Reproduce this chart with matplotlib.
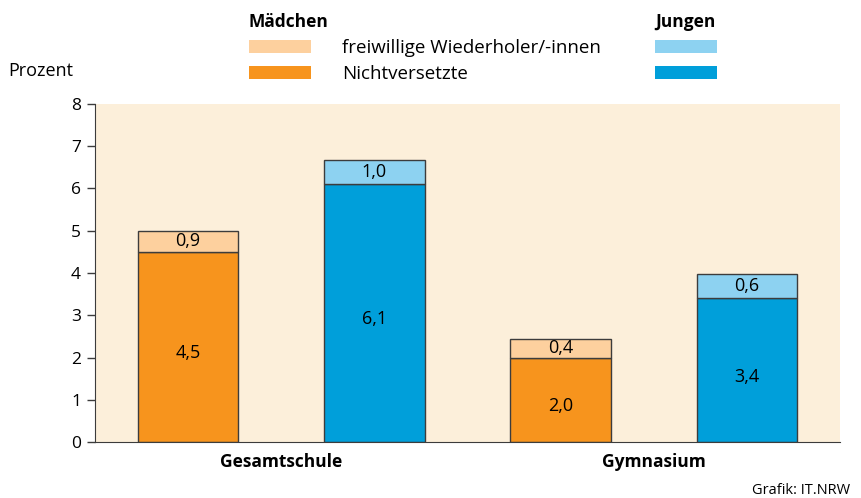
import matplotlib.pyplot as plt
from matplotlib.patches import Rectangle

# ---------------------------------------------------------
# Daten
# ---------------------------------------------------------

schulformen = ["Gesamtschule", "Gymnasium"]

# Nichtversetzte (Prozent)
maedchen_nv = [4.5, 2.0]
jungen_nv = [6.1, 3.4]

# freiwillige Wiederholer/-innen (Prozent, Beschriftung)
maedchen_fw = [0.9, 0.4]
jungen_fw = [1.0, 0.6]

# Höhe der oberen Segmente, wie sie in der Vorlage gezeichnet sind
maedchen_fw_hoehe = [0.5, 0.43]
jungen_fw_hoehe = [0.57, 0.58]

yticks = [0, 1, 2, 3, 4, 5, 6, 7, 8]

# ---------------------------------------------------------
# Farben
# ---------------------------------------------------------

hintergrund = "#FCEFDA"
orange = "#F7941D"
orange_hell = "#FDD09E"
blau = "#009FDA"
blau_hell = "#8DD2F1"
rand = "#3C3C3C"

plt.rcParams["font.family"] = ["Open Sans", "DejaVu Sans"]

fig = plt.figure(figsize=(8.61, 4.98), dpi=100)
ax = fig.add_axes([0.1103, 0.1124, 0.8653, 0.6788])
ax.set_facecolor(hintergrund)

breite = 0.54
x_m = [0, 2]
x_j = [1, 3]


def fmt(v):
    return f"{v:.1f}".replace(".", ",")


for xs, nv, fw, fw_h, c1, c2 in [
    (x_m, maedchen_nv, maedchen_fw, maedchen_fw_hoehe, orange, orange_hell),
    (x_j, jungen_nv, jungen_fw, jungen_fw_hoehe, blau, blau_hell),
]:
    ax.bar(xs, nv, width=breite, color=c1, edgecolor=rand, linewidth=1, zorder=2)
    ax.bar(xs, fw_h, bottom=nv, width=breite, color=c2,
           edgecolor=rand, linewidth=1, zorder=2)
    for x, a, b, h in zip(xs, nv, fw, fw_h):
        ax.text(x, a / 2 - 0.15, fmt(a), ha="center", va="center", fontsize=13)
        ax.text(x, a + h / 2, fmt(b), ha="center", va="center", fontsize=13)

ax.set_xlim(-0.5, 3.5)
ax.set_ylim(0, 8)
ax.set_yticks(yticks)
ax.set_yticklabels([str(t) for t in yticks], fontsize=12.5)
ax.tick_params(axis="y", length=6, width=1, color=rand, pad=4)
ax.set_xticks([])

for s in ["top", "right"]:
    ax.spines[s].set_visible(False)
ax.spines["left"].set_color(rand)
ax.spines["bottom"].set_color(rand)
ax.spines["bottom"].set_bounds(-0.5, 3.5)

# Kategorien unter den Gruppen
for i, name in enumerate(schulformen):
    ax.text(2 * i + 0.5, -0.25, name, ha="center", va="top",
            fontsize=12.5, fontweight="bold")

# ---------------------------------------------------------
# Legende
# ---------------------------------------------------------

W, H = 861, 498


def fx(px):
    return px / W


def fy(py):
    return 1 - py / H


fig.text(fx(249), fy(22), "Mädchen", fontsize=12.5, fontweight="bold",
         va="center", ha="left")
fig.text(fx(655), fy(22), "Jungen", fontsize=12.5, fontweight="bold",
         va="center", ha="left")

for (x0, y0, c) in [(249, 40, orange_hell), (249, 66, orange),
                    (655, 40, blau_hell), (655, 66, blau)]:
    fig.add_artist(Rectangle((fx(x0), fy(y0 + 13)), 62 / W, 13 / H,
                             transform=fig.transFigure, color=c, lw=0))

fig.text(fx(342), fy(48), "freiwillige Wiederholer/-innen", fontsize=13.5,
         va="center", ha="left")
fig.text(fx(342), fy(74), "Nichtversetzte", fontsize=13.5,
         va="center", ha="left")

fig.text(fx(8), fy(71), "Prozent", fontsize=13, va="center", ha="left")
fig.text(fx(752), fy(490), "Grafik: IT.NRW", fontsize=10.5, va="center", ha="left")

fig.savefig("out.png", dpi=100)
